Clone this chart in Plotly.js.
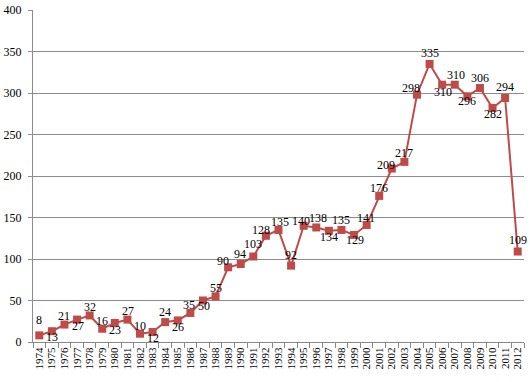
<!DOCTYPE html>
<html><head><meta charset="utf-8">
<script src="https://cdn.plot.ly/plotly-3.0.1.min.js"></script>
<style>html,body{margin:0;padding:0;background:#fff}#c{width:530px;height:382px}</style>
</head><body><div id="c"></div>
<script>
var years = ["1974","1975","1976","1977","1978","1979","1980","1981","1982","1983","1984","1985","1986","1987","1988","1989","1990","1991","1992","1993","1994","1995","1996","1997","1998","1999","2000","2001","2002","2003","2004","2005","2006","2007","2008","2009","2010","2011","2012"];
var counts = [8,13,21,27,32,16,23,27,10,12,24,26,35,50,55,90,94,103,128,135,92,140,138,134,135,129,141,176,209,217,298,335,310,310,296,306,282,294,109];
// label offsets in pixels (dx right, dy down) relative to each marker
var labelDx = [0,0,0,1,0,0,0,1,0,0,0,0,-1,1,0,-5,-1,0,-5,1,0,-3,2,0,0,1,-1,0,-6,0,-6,0,1,1,0,0,0,0,0];
var labelDy = [-15,6,-9,6,-8,-8,7,-9,-8,6,-10,7,-8,5,-8,-6,-10,-13,-6,-8,-11,-5,-9,6,-10,5,-7,-8,-4,-9,-7,-11,7,-10,5,-10,6,-11,-12];

var FONT = 'Liberation Serif';
var red = '#BE4B48';
var annotations = [];
for (var i = 0; i < years.length; i++) {
  annotations.push({
    xref: 'x', yref: 'y', x: i, y: counts[i], text: String(counts[i]), showarrow: false,
    xanchor: 'center', yanchor: 'middle',
    xshift: labelDx[i], yshift: -labelDy[i],
    font: {family: FONT, size: 12, color: '#000'}
  });
}

Plotly.newPlot('c', [{
  x: years, y: counts, type: 'scatter', mode: 'lines+markers',
  line: {color: red, width: 2},
  marker: {symbol: 'square', size: 8, color: red},
  cliponaxis: false
}], {
  width: 530, height: 382,
  margin: {l: 33, r: 6, t: 10, b: 40},
  paper_bgcolor: '#fff', plot_bgcolor: '#fff',
  showlegend: false,
  font: {family: FONT, color: '#000'},
  annotations: annotations,
  xaxis: {
    type: 'category', range: [-0.5, 38.5], tickangle: -90,
    tickmode: 'array', tickvals: years, ticktext: years,
    tickfont: {family: FONT, size: 11},
    ticks: 'outside', tickson: 'boundaries', ticklen: 5, tickcolor: '#888',
    showline: true, linecolor: '#888', linewidth: 1, showgrid: false, zeroline: false
  },
  yaxis: {
    range: [0, 400], dtick: 50, tickfont: {family: FONT, size: 12},
    showgrid: true, gridcolor: '#8c8c8c', gridwidth: 1,
    showline: true, linecolor: '#8c8c8c', ticks: 'outside', ticklen: 4, tickcolor: '#8c8c8c',
    ticklabelstandoff: 4, zeroline: false
  }
}, {displayModeBar: false, staticPlot: true});
</script></body></html>
